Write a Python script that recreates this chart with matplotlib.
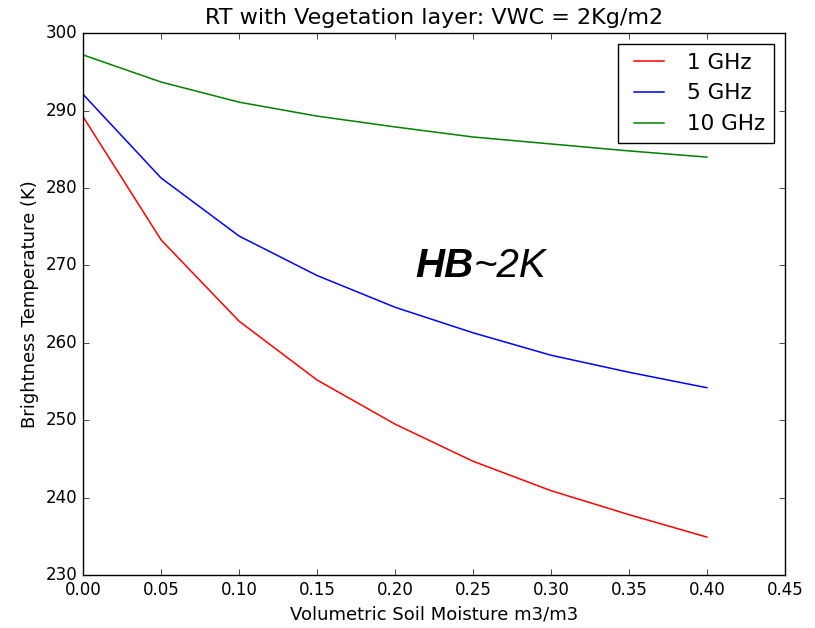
import numpy as np
import matplotlib
matplotlib.use("Agg")
import matplotlib.pyplot as plt

plt.style.use("classic")

################################################
## Data

vsm = [0.00, 0.05, 0.10, 0.15, 0.20, 0.25, 0.30, 0.35, 0.40]
tb_1ghz = [289.2, 273.3, 262.8, 255.2, 249.5, 244.7, 240.9, 237.8, 234.9]
tb_5ghz = [292.1, 281.3, 273.8, 268.7, 264.6, 261.3, 258.4, 256.2, 254.2]
tb_10ghz = [297.2, 293.7, 291.1, 289.3, 287.9, 286.6, 285.7, 284.8, 284.0]

################################################

fig = plt.figure(figsize=(8.15, 6.28), dpi=100, facecolor="white")
ax = fig.add_axes([0.102, 0.0844, 0.861, 0.8626])

ax.plot(vsm, tb_1ghz, "r", label="1 GHz", lw=1.1)
ax.plot(vsm, tb_5ghz, "b", label="5 GHz", lw=1.1)
ax.plot(vsm, tb_10ghz, "g", label="10 GHz", lw=1.1)

ax.set_xlim(0, 0.45)
ax.set_ylim(230, 300)
ax.set_xticks(np.arange(0, 0.451, 0.05))
ax.set_xlabel("Volumetric Soil Moisture m3/m3", fontsize=13)
ax.set_ylabel("Brightness Temperature (K)", fontsize=13)
ax.set_title("RT with Vegetation layer: VWC = 2Kg/m2", fontsize=16, y=1.005)
ax.tick_params(labelsize=12)
ax.legend(loc="upper right", fontsize=15.5)

# annotation
t1 = ax.text(0.213, 268.5, "HB", fontsize=29, fontweight="bold", fontstyle="italic",
             family="Liberation Sans", va="baseline")
fig.canvas.draw()
bb = t1.get_window_extent()
ax.annotate("~2K", xy=(bb.x1, bb.y0), xycoords="figure pixels", fontsize=29,
            fontstyle="italic", family="Liberation Sans", va="bottom")

plt.savefig("out.png", dpi=100, facecolor="white")
